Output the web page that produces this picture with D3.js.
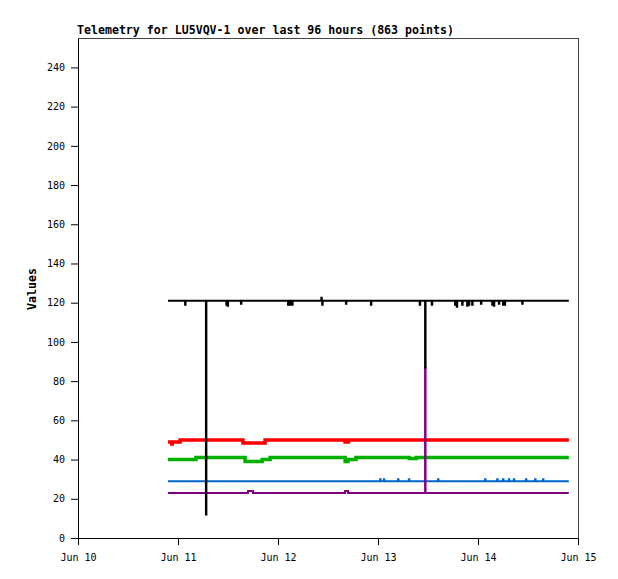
<!DOCTYPE html>
<html>
<head>
<meta charset="utf-8">
<script src="https://cdn.jsdelivr.net/npm/d3@7"></script>
<style>
  body { margin: 0; background: #fff; }
  text { font-family: "DejaVu Sans Mono", monospace; }
</style>
</head>
<body>
<svg id="chart" width="618" height="579"></svg>
<script>
// hours after Jun 10 00:00 (UTC)
const startHour = 21.6;
const endHour = 117.8;

// step levels: [hour, value] holds until next change
const blackLevels = [[21.6, 121]];
const blackSpikes = [[25.7, 119], [30.7, 12], [35.6, 119], [35.9, 118.5], [39.1, 119.5],
    [50.4, 119], [50.9, 119], [51.4, 119], [58.4, 122.5], [58.6, 119], [64.3, 119.5],
    [70.3, 119], [82.0, 119], [83.3, 87], [84.9, 119], [90.5, 119], [90.9, 118],
    [92.2, 119], [93.4, 118.5], [93.8, 119], [94.6, 119], [96.7, 119.5], [99.4, 119],
    [99.8, 118.5], [101.0, 119.5], [102.0, 119], [102.4, 119], [106.6, 119.5]];

const redLevels = [[21.6, 49], [24.5, 50], [39.6, 48.5], [44.9, 50], [64.1, 49], [64.9, 50]];
const redSpikes = [[22.5, 48]];

const greenLevels = [[21.6, 40], [28.3, 41], [40.1, 39], [44.2, 40], [46.1, 41],
    [64.1, 39], [64.8, 40], [66.7, 41], [79.5, 40.5], [81.2, 41]];
const greenSpikes = [];

const blueLevels = [[21.6, 29]];
const blueSpikes = [[72.5, 30], [73.4, 30], [76.8, 30], [79.4, 30], [86.4, 30], [97.7, 30],
    [100.6, 30], [102.0, 30], [103.4, 30], [104.6, 30], [107.5, 30], [109.7, 30], [111.6, 30]];

const purpleLevels = [[21.6, 23], [40.8, 24], [42.0, 23], [64.1, 24], [64.8, 23]];
const purpleSpikes = [[83.3, 87]];

const yTicks = [0, 20, 40, 60, 80, 100, 120, 140, 160, 180, 200, 220, 240];
const xTickDays = [10, 11, 12, 13, 14, 15];

const svg = d3.select("#chart");
const margin = { top: 38, right: 40, bottom: 41, left: 78 };
const width = 618 - margin.left - margin.right;
const height = 579 - margin.top - margin.bottom;

const t0 = Date.UTC(2024, 5, 10);
const hourToDate = h => new Date(t0 + h * 3600e3);

const x = d3.scaleUtc()
    .domain([new Date(Date.UTC(2024, 5, 10)), new Date(Date.UTC(2024, 5, 15))])
    .range([0, width]);
const y = d3.scaleLinear().domain([0, 255]).range([height, 0]);

const g = svg.append("g").attr("transform", `translate(${margin.left},${margin.top})`);

// border top + right
g.append("line").attr("x1", 0).attr("x2", width).attr("y1", 0.5).attr("y2", 0.5)
    .attr("stroke", "#444");
g.append("line").attr("x1", width + 0.5).attr("x2", width + 0.5).attr("y1", 0).attr("y2", height)
    .attr("stroke", "#444");

function build(levels, spikes) {
    const levelAt = h => {
        let v = levels[0][1];
        levels.forEach(d => { if (d[0] <= h) v = d[1]; });
        return v;
    };
    const pts = levels.map(d => ({ h: d[0], v: d[1] }));
    spikes.forEach(([h, v]) => {
        pts.push({ h: h, v: v }, { h: h + 0.11, v: levelAt(h) });
    });
    pts.sort((a, b) => a.h - b.h);
    pts.push({ h: endHour, v: levelAt(endHour) });
    return pts;
}

const line = d3.line()
    .x(d => x(hourToDate(d.h)))
    .y(d => y(d.v))
    .curve(d3.curveStepAfter);

const series = [
    { levels: redLevels, spikes: redSpikes, color: "#ff0000", w: 3.5 },
    { levels: greenLevels, spikes: greenSpikes, color: "#00b000", w: 3.5 },
    { levels: blueLevels, spikes: blueSpikes, color: "#0066cc", w: 2 },
    { levels: purpleLevels, spikes: purpleSpikes, color: "#7f007f", w: 2 },
    { levels: blackLevels, spikes: blackSpikes, color: "#000000", w: 2 }
];

series.forEach(s => {
    g.append("path")
        .attr("d", line(build(s.levels, s.spikes)))
        .attr("fill", "none")
        .attr("stroke", s.color)
        .attr("stroke-width", s.w);
});

// axes
const yAxis = g.append("g")
    .call(d3.axisLeft(y).tickValues(yTicks).tickSize(7).tickSizeOuter(0).tickPadding(6));
const xAxis = g.append("g")
    .attr("transform", `translate(0,${height})`)
    .call(d3.axisBottom(x)
        .tickValues(xTickDays.map(d => new Date(Date.UTC(2024, 5, d))))
        .tickFormat(d3.utcFormat("%b %d"))
        .tickSize(7).tickSizeOuter(0).tickPadding(9));
[yAxis, xAxis].forEach(a => {
    a.selectAll("text").attr("font-family", "DejaVu Sans Mono").attr("font-size", 10).attr("fill", "#000");
    a.selectAll("line,path").attr("stroke", "#000");
});

svg.append("text")
    .attr("x", 77).attr("y", 34)
    .attr("font-size", 11.6).attr("font-weight", "bold")
    .text("Telemetry for LU5VQV-1 over last 96 hours (863 points)");

svg.append("text")
    .attr("transform", "translate(36,289) rotate(-90)")
    .attr("text-anchor", "middle")
    .attr("font-size", 11.6).attr("font-weight", "bold")
    .text("Values");
</script>
</body>
</html>
